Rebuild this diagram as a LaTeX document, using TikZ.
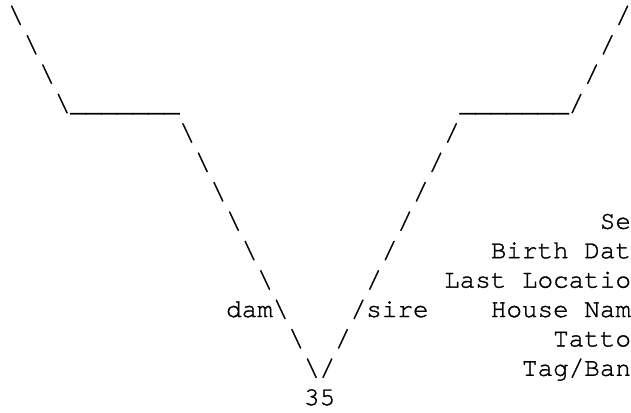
\documentclass[tikz,border=0pt]{standalone}
\usepackage{fontspec}
\newfontfamily\asciifont[FakeBold=1.2]{texgyrecursor-regular.otf}
\newcommand\cw{15.57}
\newcommand\xo{8.2}
\newcommand\yo{23}
\newcommand\lh{29.4}
\newcommand\asciiat[4]{\node[glyph] (#1) at ({\xo+#2*\cw},{\yo+#3*\lh}) {#4};}
\begin{document}
\begin{tikzpicture}[x=1pt,y=-1pt,
  glyph/.style={inner sep=0pt, outer sep=0pt, anchor=base west,
    font=\asciifont\fontsize{25.95pt}{29.4pt}\selectfont, text=black}]
\path[use as bounding box, fill=white] (0,0) rectangle (631,412);
% left (dam) line
\asciiat{l0}{0}{0}{\textbackslash}
\asciiat{l1}{1}{1}{\textbackslash}
\asciiat{l2}{2}{2}{\textbackslash}
\asciiat{l3}{3}{3}{\textbackslash}
\asciiat{lbar}{4}{3}{\_\_\_\_\_\_\_}
\asciiat{l4}{11}{4}{\textbackslash}
\asciiat{l5}{12}{5}{\textbackslash}
\asciiat{l6}{13}{6}{\textbackslash}
\asciiat{l7}{14}{7}{\textbackslash}
\asciiat{l8}{15}{8}{\textbackslash}
\asciiat{l9}{16}{9}{\textbackslash}
\asciiat{dam}{14}{10}{dam\textbackslash}
\asciiat{l11}{18}{11}{\textbackslash}
\asciiat{l12}{19}{12}{\textbackslash}
% right (sire) line
\asciiat{r0}{39}{0}{/}
\asciiat{r1}{38}{1}{/}
\asciiat{r2}{37}{2}{/}
\asciiat{r3}{36}{3}{/}
\asciiat{rbar}{29}{3}{\_\_\_\_\_\_\_}
\asciiat{r4}{28}{4}{/}
\asciiat{r5}{27}{5}{/}
\asciiat{r6}{26}{6}{/}
\asciiat{r7}{25}{7}{/}
\asciiat{r8}{24}{8}{/}
\asciiat{r9}{23}{9}{/}
\asciiat{sire}{22}{10}{/sire}
\asciiat{r11}{21}{11}{/}
\asciiat{r12}{20}{12}{/}
% id
\asciiat{id}{19}{13}{35}
% right-hand labels
\asciiat{sex}{38}{7}{Se}
\asciiat{birth}{31}{8}{Birth Dat}
\asciiat{last}{28}{9}{Last Locatio}
\asciiat{house}{31}{10}{House Nam}
\asciiat{tattoo}{35}{11}{Tatto}
\asciiat{tag}{33}{12}{Tag/Ban}
\end{tikzpicture}
\end{document}
